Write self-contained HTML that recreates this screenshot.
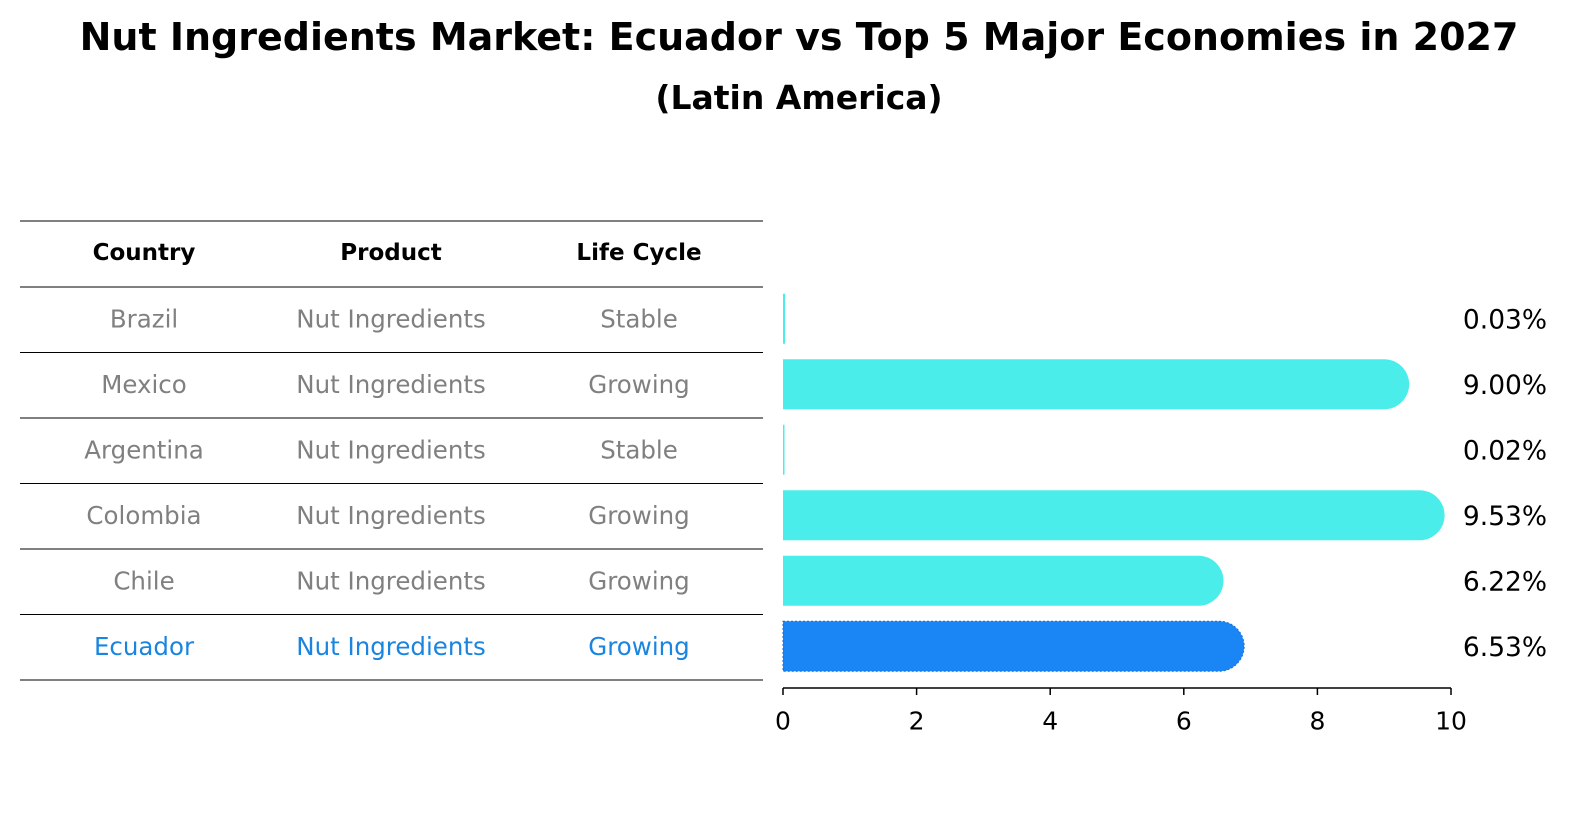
<!DOCTYPE html>
<html><head><meta charset="utf-8"><style>
body{margin:0;background:#fff;}
svg{display:block;font-family:"DejaVu Sans","Liberation Sans",sans-serif;}
</style></head><body>
<svg id="chart" width="1586" height="823" viewBox="0 0 1586 823">
<rect width="1586" height="823" fill="#fff"/>
<text x="799" y="50" text-anchor="middle" font-size="38" font-weight="bold">Nut Ingredients Market: Ecuador vs Top 5 Major Economies in 2027</text>
<text x="799" y="109" text-anchor="middle" font-size="33" font-weight="bold">(Latin America)</text>
<g id="table"></g>
<g id="bars"></g>
<g id="axis"></g>
</svg>
<script>
const countries=["Brazil","Mexico","Argentina","Colombia","Chile","Ecuador"];
const products=["Nut Ingredients","Nut Ingredients","Nut Ingredients","Nut Ingredients","Nut Ingredients","Nut Ingredients"];
const lifecycles=["Stable","Growing","Stable","Growing","Growing","Growing"];
const values=[0.03,9.00,0.02,9.53,6.22,6.53];
const valueLabels=["0.03%","9.00%","0.02%","9.53%","6.22%","6.53%"];
const ticks=[0,2,4,6,8,10];
const NS="http://www.w3.org/2000/svg";
function mk(tag,attrs,parent,txt){const e=document.createElementNS(NS,tag);for(const k in attrs)e.setAttribute(k,attrs[k]);if(txt!==undefined)e.textContent=txt;parent.appendChild(e);return e;}
const x0=783,x1=1451,xmax=10;
const xs=v=>x0+(v/xmax)*(x1-x0);
const rowTop=287,rowH=65.5;
const rowC=i=>rowTop+rowH*i+rowH/2;
const tbl=document.getElementById('table');
const colX=[144,391,639];
const lineYs=[221,287];
for(let i=1;i<=countries.length;i++)lineYs.push(rowTop+rowH*i);
lineYs.forEach((y,i)=>{const l=mk('line',{x1:20,x2:763,y1:y,y2:y,stroke:'#000','stroke-width':1},tbl);

});
["Country","Product","Life Cycle"].forEach((h,j)=>{const t=mk('text',{x:colX[j],y:253,'text-anchor':'middle','dominant-baseline':'central','font-size':23,'font-weight':'bold'},tbl,h);

});
countries.forEach((c,i)=>{const col=c==="Ecuador"?"#1a85e0":"#808080";
[c,products[i],lifecycles[i]].forEach((v,j)=>{const t=mk('text',{x:colX[j],y:rowC(i)-1,'text-anchor':'middle','dominant-baseline':'central','font-size':24.5,fill:col},tbl,v);

});});
const bars=document.getElementById('bars');
const bh=50,r=25;
values.forEach((v,i)=>{const cy=rowC(i)-1,xe=xs(v),isE=countries[i]==="Ecuador",col=isE?"#1a85f5":"#4aede9";
let b;
if(v<0.5){b=mk('rect',{x:x0,y:cy-bh/2,width:Math.max(xe-x0,1.5),height:bh,fill:col},bars);}
else{b=mk('path',{d:`M${x0},${cy-bh/2} H${xe} A${r},${r} 0 0 1 ${xe},${cy+bh/2} H${x0} Z`,fill:col},bars);
if(isE){b.setAttribute('stroke','#1570d8');b.setAttribute('stroke-dasharray','2,2');b.setAttribute('stroke-width','1');}}


const t=mk('text',{x:1505,y:cy+1,'text-anchor':'middle','dominant-baseline':'central','font-size':26.5},bars,valueLabels[i]);

});
const ax=document.getElementById('axis');
mk('line',{x1:x0,x2:x1,y1:688,y2:688,stroke:'#000','stroke-width':1.5},ax);
ticks.forEach(tv=>{const x=xs(tv);mk('line',{x1:x,x2:x,y1:688,y2:695,stroke:'#000','stroke-width':1.5},ax);
const t=mk('text',{x:x,y:721,'text-anchor':'middle','dominant-baseline':'central','font-size':25},ax,String(tv));

});
</script>
</body></html>
